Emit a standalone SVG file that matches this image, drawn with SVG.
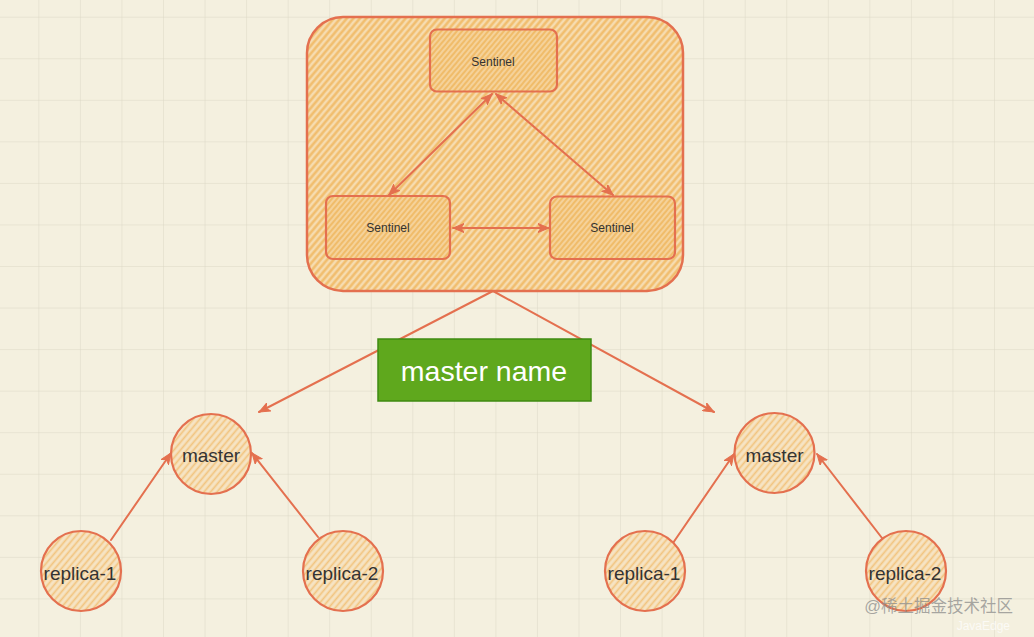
<svg xmlns="http://www.w3.org/2000/svg" width="1034" height="637" viewBox="0 0 1034 637">
<defs>
<pattern id="grid" x="-3.2" y="16.7" width="41.55" height="41.55" patternUnits="userSpaceOnUse">
<path d="M0,0 H41.55 M0,0 V41.55" fill="none" stroke="#dcd8c5" stroke-width="1"/>
</pattern>
<pattern id="hatch" width="5" height="5" patternUnits="userSpaceOnUse" patternTransform="rotate(-50)">
<rect width="5" height="5" fill="#f6dcb0"/>
<line x1="0" y1="2.5" x2="5" y2="2.5" stroke="#f1bb68" stroke-width="2.3"/>
</pattern>
<pattern id="hatchDense" width="4" height="4" patternUnits="userSpaceOnUse" patternTransform="rotate(-50)">
<rect width="4" height="4" fill="#f5d29a"/>
<line x1="0" y1="2" x2="4" y2="2" stroke="#f0bc6a" stroke-width="2"/>
</pattern>
<pattern id="hatchLight" width="5" height="5" patternUnits="userSpaceOnUse" patternTransform="rotate(-50)">
<rect width="5" height="5" fill="#f6e4c4"/>
<line x1="0" y1="2.5" x2="5" y2="2.5" stroke="#f2c47e" stroke-width="1.7"/>
</pattern>
<marker id="arr" viewBox="0 0 12 10" refX="11" refY="5" markerWidth="12" markerHeight="10" markerUnits="userSpaceOnUse" orient="auto-start-reverse">
<path d="M0,0.5 L11,5 L0,9.5 L3,5 Z" fill="#e4704f" stroke="#e4704f" stroke-width="1" stroke-linejoin="round"/>
</marker>
<style>
.edge{fill:none;stroke:#e4704f;stroke-width:2;stroke-linecap:round}
.node{stroke:#e4704f;stroke-width:2.2}
.lbl{font-family:"Liberation Sans",Arial,sans-serif;fill:#333333;text-anchor:middle;dominant-baseline:central}
</style>
</defs>
<rect width="1034" height="637" fill="#f4f0df"/>
<rect width="1034" height="637" fill="url(#grid)"/>

<g id="sentinel-cluster">
<rect x="307" y="17" width="376" height="274" rx="36" ry="36" fill="url(#hatch)" stroke="#e4704f" stroke-width="2.5"/>
</g>
<g id="sentinel-top">
<rect class="node" x="430" y="29.5" width="127" height="62" rx="7" fill="url(#hatchDense)"/>
<text class="lbl" x="493" y="62" font-size="12">Sentinel</text>
</g>
<g id="sentinel-left">
<rect class="node" x="326" y="196" width="124" height="63" rx="7" fill="url(#hatchDense)"/>
<text class="lbl" x="388" y="228" font-size="12">Sentinel</text>
</g>
<g id="sentinel-right">
<rect class="node" x="550" y="196.5" width="125" height="62.5" rx="7" fill="url(#hatchDense)"/>
<text class="lbl" x="612" y="228" font-size="12">Sentinel</text>
</g>

<g id="connectors">
<line class="edge" x1="492" y1="94" x2="389" y2="195" marker-start="url(#arr)" marker-end="url(#arr)"/>
<line class="edge" x1="496" y1="94" x2="613" y2="195" marker-start="url(#arr)" marker-end="url(#arr)"/>
<line class="edge" x1="453" y1="228" x2="549" y2="228" marker-start="url(#arr)" marker-end="url(#arr)"/>
<line class="edge" x1="493" y1="291" x2="259" y2="412" marker-end="url(#arr)"/>
<line class="edge" x1="493" y1="291" x2="714" y2="412" marker-end="url(#arr)"/>
<line class="edge" x1="111" y1="540" x2="171" y2="453" marker-end="url(#arr)"/>
<line class="edge" x1="318" y1="537" x2="252" y2="453" marker-end="url(#arr)"/>
<line class="edge" x1="673" y1="543" x2="734" y2="454" marker-end="url(#arr)"/>
<line class="edge" x1="882" y1="538" x2="817" y2="454" marker-end="url(#arr)"/>
</g>

<g id="master-name">
<rect x="378" y="339" width="213" height="62" fill="#5fa81d" stroke="#3e8a12" stroke-width="1.5"/>
<text x="484" y="371" font-family="'Liberation Sans',Arial,sans-serif" font-size="28.5" fill="#ffffff" text-anchor="middle" dominant-baseline="central">master name</text>
</g>

<g id="master-left">
<circle class="node" cx="211" cy="454" r="40" fill="url(#hatchLight)"/>
<text class="lbl" x="211" y="455" font-size="19">master</text>
</g>
<g id="replica-1-left">
<circle class="node" cx="81" cy="571" r="40" fill="url(#hatchLight)"/>
<text class="lbl" x="80" y="573" font-size="19">replica-1</text>
</g>
<g id="replica-2-left">
<circle class="node" cx="343" cy="571" r="40" fill="url(#hatchLight)"/>
<text class="lbl" x="342" y="573" font-size="19">replica-2</text>
</g>
<g id="master-right">
<circle class="node" cx="774.5" cy="453" r="40" fill="url(#hatchLight)"/>
<text class="lbl" x="774.5" y="455" font-size="19">master</text>
</g>
<g id="replica-1-right">
<circle class="node" cx="645" cy="571" r="40" fill="url(#hatchLight)"/>
<text class="lbl" x="644" y="573" font-size="19">replica-1</text>
</g>
<g id="replica-2-right">
<circle class="node" cx="906" cy="571" r="40" fill="url(#hatchLight)"/>
<text class="lbl" x="905" y="573" font-size="19">replica-2</text>
</g>

<g id="watermark">
<text x="1013" y="606" font-family="'Liberation Sans','Noto Sans CJK SC',sans-serif" font-size="16.5" fill="#8c8c8c" fill-opacity="0.75" text-anchor="end" dominant-baseline="central">@稀土掘金技术社区</text>
<text x="1010" y="626" font-family="'Liberation Sans',sans-serif" font-size="12" fill="#ffffff" fill-opacity="0.7" text-anchor="end" dominant-baseline="central">JavaEdge</text>
</g>
</svg>
